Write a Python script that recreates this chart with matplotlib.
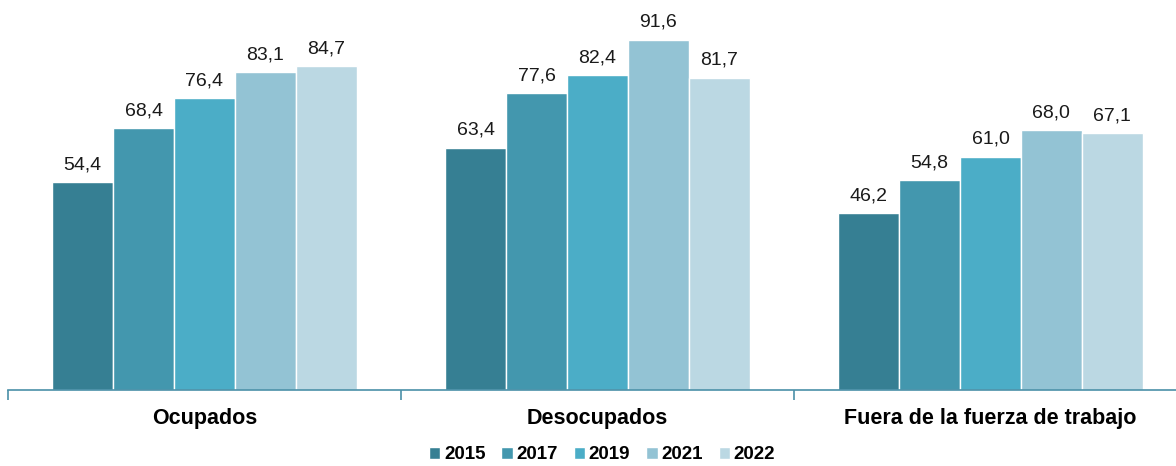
import numpy as np
import matplotlib.pyplot as plt

plt.rcParams['font.family'] = ['Liberation Sans', 'DejaVu Sans']

categorias = ["Ocupados", "Desocupados", "Fuera de la fuerza de trabajo"]
anios = ["2015", "2017", "2019", "2021", "2022"]
v2015 = [54.4, 63.4, 46.2]
v2017 = [68.4, 77.6, 54.8]
v2019 = [76.4, 82.4, 61.0]
v2021 = [83.1, 91.6, 68.0]
v2022 = [84.7, 81.7, 67.1]
series = [v2015, v2017, v2019, v2021, v2022]

colores = ["#367F93", "#4397AE", "#4BADC7", "#93C3D4", "#BBD8E3"]
eje = "#4A90A8"

fig = plt.figure(figsize=(11.76, 4.66), dpi=100)
ax = fig.add_axes([8 / 1176, 76 / 466, 1168 / 1176, 390 / 466])

x = np.arange(len(categorias))
w = 0.155
for i, (vals, anio) in enumerate(zip(series, anios)):
    pos = x + (i - 2) * w
    bars = ax.bar(pos, vals, width=w, color=colores[i], edgecolor="white",
                  linewidth=1, label=anio)
    for b, v in zip(bars, vals):
        ax.text(b.get_x() + b.get_width() / 2, v + 2.3,
                f"{v:.1f}".replace(".", ","), ha="center", va="bottom",
                fontsize=14, color="#1a1a1a")

ax.set_xlim(-0.5, -0.5 + 1168 / 393)
ax.set_ylim(0, 102)
ax.set_yticks([])
for s in ["top", "right", "left"]:
    ax.spines[s].set_visible(False)
ax.spines["bottom"].set_color(eje)
ax.spines["bottom"].set_linewidth(1.2)

ax.set_xticks(x)
ax.set_xticklabels(categorias, fontsize=15.5, fontweight="bold")
ax.tick_params(axis="x", which="major", length=0, pad=13)
ax.set_xticks([-0.5, 0.5, 1.5], minor=True)
ax.tick_params(axis="x", which="minor", length=7, color=eje, width=1.2)

fig.legend(loc="lower center", bbox_to_anchor=(0.512, 0.0), ncol=5, frameon=False,
           prop={"weight": "bold", "size": 13.5}, handlelength=0.6,
           handleheight=0.6, handletextpad=0.2, columnspacing=0.85,
           borderaxespad=0.0, borderpad=0.15)

fig.savefig("out.png", dpi=100)
